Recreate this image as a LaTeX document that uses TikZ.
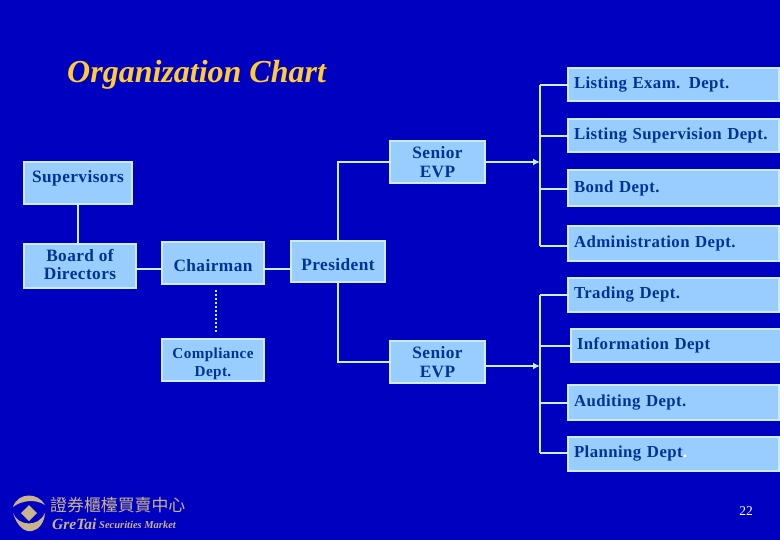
\documentclass[tikz,border=0pt]{standalone}
\usepackage{fontspec}
\usetikzlibrary{arrows.meta}
\setmainfont{Liberation Serif}
\newfontfamily\boxfont[LetterSpace=2.5]{Liberation Serif}
\newfontfamily\cjkfont{Noto Sans CJK TC}
\definecolor{slide_blue}{HTML}{0000C0}
\definecolor{box_fill}{HTML}{99CCFF}
\definecolor{box_edge}{HTML}{CCECFF}
\definecolor{box_text}{HTML}{003399}
\definecolor{title_gold}{HTML}{FFCC33}
\definecolor{logo_gold}{HTML}{C9B48C}
\tikzset{
    org_box/.style = {
        draw=box_edge,
        fill=box_fill,
        line width=2pt,
        text=box_text,
        font=\boxfont\bfseries\fontsize{17.3}{18.5}\selectfont,
        align=center,
        inner sep=0pt
    },
    low_text/.style = {
        text height=17pt,
        text depth=0pt
    },
    dept_box/.style = {
        org_box,
        anchor=west,
        align=left,
        text width=199pt,
        inner xsep=6pt,
        font=\boxfont\bfseries\fontsize{16.8}{19}\selectfont
    },
    main_line/.style = {
        draw=box_edge,
        line width=1.3pt
    },
    bus_line/.style = {
        draw=box_edge,
        line width=2pt
    },
    logo_part/.style = {
        fill=logo_gold
    },
}
\begin{document}
\begin{tikzpicture}[x=1pt,y=-1pt]
    \useasboundingbox[fill=slide_blue] (0,0) rectangle (780,540);

    \node[font=\bfseries\itshape\fontsize{32}{34}\selectfont, text=title_gold, anchor=west, inner sep=0pt] (title) at (67,75) {Organization Chart};

    % left part
    \node[org_box, minimum width=108pt, minimum height=42pt, text depth=12pt] (supervisors) at (78,183) {Supervisors};
    \node[org_box, minimum width=112pt, minimum height=44pt] (board) at (80,266) {Board of\\Directors\rule[-3pt]{0pt}{0pt}};
    \node[org_box, low_text, minimum width=102pt, minimum height=42pt] (chairman) at (213,263) {Chairman};
    \node[org_box, low_text, minimum width=94pt, minimum height=41pt] (president) at (338,262) {President};
    \node[org_box, minimum width=102pt, minimum height=42pt, font=\boxfont\bfseries\fontsize{15.2}{18.5}\selectfont] (compliance) at (213,360) {\rule{0pt}{18pt}Compliance\\Dept.};
    \node[org_box, minimum width=95pt, minimum height=42pt] (evp_up) at (437.5,162) {Senior\\EVP};
    \node[org_box, minimum width=95pt, minimum height=42pt] (evp_down) at (437.5,362) {Senior\\EVP};

    % right part
    \node[dept_box, minimum height=33pt] (exam) at (567,85) {Listing Exam. Dept.};
    \node[dept_box, minimum height=33pt] (supervision) at (567,135.5) {Listing Supervision Dept.};
    \node[dept_box, minimum height=36pt] (bond) at (567,188) {Bond Dept.};
    \node[dept_box, minimum height=35pt] (admin) at (567,243.5) {Administration Dept.};
    \node[dept_box, minimum height=34pt] (trading) at (567,295) {Trading Dept.};
    \node[dept_box, minimum height=33pt] (information) at (570,345.5) {Information Dept};
    \node[dept_box, minimum height=35pt] (auditing) at (567,402.5) {Auditing Dept.};
    \node[dept_box, minimum height=34pt] (planning) at (567,454) {Planning Dept\textcolor{white}{.}};

    \coordinate (bus_up_top) at (540,85);
    \coordinate (bus_up_b) at (540,136);
    \coordinate (bus_up_c) at (540,189);
    \coordinate (bus_up_end) at (540,246);
    \coordinate (bus_down_top) at (540,295);
    \coordinate (bus_down_b) at (540,346);
    \coordinate (bus_down_c) at (540,403);
    \coordinate (bus_down_end) at (540,453);

    \draw[main_line] (supervisors) -- (supervisors |- board.north);
    \draw[bus_line] (board.east |- 0,269) -- (chairman.west |- 0,269);
    \draw[bus_line] (chairman.east |- 0,269) -- (president.west |- 0,269);
    \draw[bus_line, line width=2.5pt, dash pattern=on 2.5pt off 1.5pt] (216,290) -- (216,333);
    \draw[main_line] (president.north) |- (evp_up.west);
    \draw[main_line] (president.south) |- (evp_down.west);

    \draw[bus_line] (bus_up_top) -- (bus_up_end);
    \draw[bus_line] (bus_down_top) -- (bus_down_end);
    \draw[bus_line] (bus_up_top) -- (exam.west |- bus_up_top);
    \draw[bus_line] (bus_up_b) -- (supervision.west |- bus_up_b);
    \draw[bus_line] (bus_up_c) -- (bond.west |- bus_up_c);
    \draw[bus_line] (bus_up_end) -- (admin.west |- bus_up_end);
    \draw[bus_line] (bus_down_top) -- (trading.west |- bus_down_top);
    \draw[bus_line] (bus_down_b) -- (information.west |- bus_down_b);
    \draw[bus_line] (bus_down_c) -- (auditing.west |- bus_down_c);
    \draw[bus_line] (bus_down_end) -- (planning.west |- bus_down_end);

    \draw[bus_line, -{Latex[length=7pt,width=7pt]}] (evp_up.east) -- (bus_up_top |- evp_up);
    \draw[bus_line, -{Latex[length=7pt,width=7pt]}] (evp_down.east |- 0,366) -- (bus_down_top |- 0,366);

    % logo
    \path[logo_part] (13,507) .. controls (18,492) and (38,492) .. (45,505) .. controls (36,499) and (22,500) .. (13,507) -- cycle;
    \path[logo_part] (13,513) .. controls (18,526) and (38,528) .. (45,513) .. controls (44,532) and (22,542) .. (13,513) -- cycle;
    \path[logo_part] (29,505) -- (37,513) -- (29,521) -- (21,513) -- cycle;
    \node[text=logo_gold, font=\cjkfont\fontsize{16.9}{17}\selectfont, anchor=west, inner sep=0pt] (logo_cjk) at (50,505) {證券櫃檯買賣中心};
    \node[text=logo_gold, font=\bfseries\itshape\fontsize{15.5}{16}\selectfont, anchor=west, inner sep=0pt] (logo_name) at (52,524) {GreTai};
    \node[text=logo_gold, font=\bfseries\itshape\fontsize{10.5}{11}\selectfont, anchor=west, inner sep=0pt] (logo_market) at (99,525) {Securities Market};

    \node[text=white, font=\fontsize{13.5}{14}\selectfont, inner sep=0pt] (page_no) at (746,511) {22};
\end{tikzpicture}
\end{document}
